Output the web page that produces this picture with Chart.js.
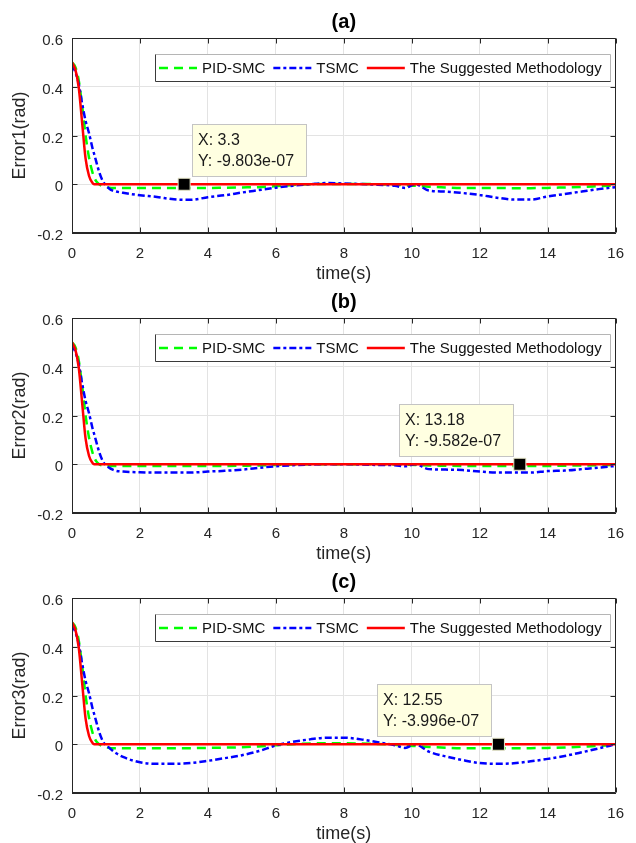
<!DOCTYPE html>
<html><head><meta charset="utf-8">
<script src="https://cdn.jsdelivr.net/npm/chart.js@4.4.0/dist/chart.umd.min.js"></script>
<style>
html,body{margin:0;padding:0;background:#fff;overflow:hidden;}
#wrap{position:relative;width:636px;height:843px;background:#fff;}
.panel{position:absolute;left:0;width:636px;height:283px;}
</style></head><body>
<div id="wrap">
<div class="panel" style="top:0"><canvas id="p0" width="636" height="283"></canvas></div>
<div class="panel" style="top:280px"><canvas id="p1" width="636" height="283"></canvas></div>
<div class="panel" style="top:560px"><canvas id="p2" width="636" height="283"></canvas></div>
</div>
<script>
// ---------- data ----------
const timeS = [0,0.1,0.2,0.3,0.4,0.5,0.6,0.65,0.7,0.8,
  0.9,1.0,1.1,1.2,1.3,1.5,2,2.5,3,3.5,
  4,4.5,5,5.5,6,6.5,7,7.5,8,8.5,
  9,9.5,9.8,10.1,10.5,11,11.5,12,12.5,13,
  13.5,14,14.5,15,15.5,16];

const suggestedErr = [0.5,0.47,0.395,0.25,0.105,0.035,0.006,0,0,0,
  0,0,0,0,0,0,0,0,0,0,
  0,0,0,0,0,0,0,0,0,0,
  0,0,0,0,0,0,0,0,0,0,
  0,0,0,0,0,0];

const pidSmcErr1 = [0.5,0.48,0.425,0.32,0.2,0.11,0.05,0.03,0.015,0,
  -0.008,-0.012,-0.014,-0.015,-0.015,-0.015,-0.015,-0.015,-0.015,-0.015,
  -0.015,-0.014,-0.013,-0.012,-0.008,-0.003,0,0.001,0.001,0.001,
  0,-0.002,-0.004,-0.006,-0.01,-0.013,-0.015,-0.015,-0.015,-0.016,
  -0.016,-0.015,-0.013,-0.011,-0.008,-0.005];
const pidSmcErr2 = [0.5,0.48,0.425,0.32,0.2,0.11,0.05,0.03,0.015,0,
  -0.005,-0.007,-0.007,-0.007,-0.007,-0.007,-0.007,-0.007,-0.007,-0.007,
  -0.007,-0.007,-0.006,-0.005,-0.003,-0.001,0,0,0,0,
  0,-0.001,-0.002,-0.003,-0.005,-0.006,-0.007,-0.007,-0.007,-0.007,
  -0.007,-0.007,-0.006,-0.005,-0.004,-0.003];
const pidSmcErr3 = [0.5,0.48,0.425,0.32,0.2,0.11,0.05,0.03,0.015,0,
  -0.008,-0.013,-0.015,-0.016,-0.016,-0.016,-0.016,-0.016,-0.016,-0.016,
  -0.015,-0.014,-0.012,-0.009,-0.004,0,0.003,0.004,0.004,0.003,
  0.001,-0.002,-0.005,-0.007,-0.011,-0.014,-0.016,-0.016,-0.016,-0.016,
  -0.016,-0.015,-0.013,-0.01,-0.007,-0.003];

const tsmcErr1 = [0.49,0.46,0.41,0.33,0.26,0.21,0.15,0.125,0.1,0.05,
  0.015,-0.005,-0.018,-0.026,-0.03,-0.035,-0.045,-0.052,-0.062,-0.064,
  -0.053,-0.045,-0.034,-0.024,-0.014,-0.006,0,0.005,0.003,0.001,
  -0.002,-0.006,-0.015,0,-0.026,-0.03,-0.036,-0.044,-0.055,-0.063,
  -0.063,-0.05,-0.04,-0.03,-0.02,-0.012];
const tsmcErr2 = [0.49,0.46,0.41,0.33,0.26,0.21,0.15,0.125,0.1,0.05,
  0.015,-0.005,-0.015,-0.022,-0.027,-0.03,-0.033,-0.034,-0.034,-0.034,
  -0.03,-0.027,-0.022,-0.015,-0.008,-0.004,-0.001,0,0,-0.001,
  -0.003,-0.004,-0.008,0,-0.02,-0.022,-0.024,-0.03,-0.034,-0.034,
  -0.034,-0.028,-0.026,-0.02,-0.014,-0.007];
const tsmcErr3 = [0.49,0.46,0.41,0.33,0.26,0.21,0.15,0.125,0.1,0.05,
  0.015,-0.005,-0.015,-0.027,-0.037,-0.052,-0.074,-0.08,-0.08,-0.077,
  -0.068,-0.057,-0.045,-0.028,-0.005,0.01,0.02,0.027,0.027,0.02,
  0.008,-0.004,-0.015,0,-0.03,-0.05,-0.065,-0.077,-0.08,-0.078,
  -0.07,-0.06,-0.048,-0.033,-0.017,0];

const xTicks = [0,2,4,6,8,10,12,14,16];
const xTickLabels = ['0','2','4','6','8','10','12','14','16'];
const yTicks = [-0.2,0,0.2,0.4,0.6];
const yTickLabels = ['-0.2','0','0.2','0.4','0.6'];

const seriesNames = ['PID-SMC','TSMC','The Suggested Methodology'];
const panelTitles = ['(a)','(b)','(c)'];
const yTitles = ['Error1(rad)','Error2(rad)','Error3(rad)'];
const xTitle = 'time(s)';
const tipX = [3.3, 13.18, 12.55];
const tipY = [-9.803e-07, -9.582e-07, -3.996e-07];
const tipXText = ['3.3','13.18','12.55'];
const tipYText = ['-9.803e-07','-9.582e-07','-3.996e-07'];

const pidSets = [pidSmcErr1, pidSmcErr2, pidSmcErr3];
const tsmcSets = [tsmcErr1, tsmcErr2, tsmcErr3];

// ---------- style ----------
const FONT = "'Liberation Sans', Arial, Helvetica, sans-serif";
const INK = '#262626';
const GREEN = '#00ff00', BLUE = '#0000ff', RED = '#ff0000';
const GREEN_DASH = [9,6], BLUE_DASH = [7,3,3,3];

function pts(arr){ return timeS.map((t,k)=>({x:t, y:arr[k]})); }

function decor(idx){
  return {
    id:'matlabDecor'+idx,
    afterDatasetsDraw(chart){
      const {ctx, chartArea:a, scales:{x,y}} = chart;
      ctx.save();
      // axes box
      ctx.strokeStyle = INK; ctx.lineWidth = 1; ctx.setLineDash([]);
      const L = Math.round(a.left)+0.5, T = Math.round(a.top)+0.5,
            R = Math.round(a.right)-0.5, B = Math.round(a.bottom)-0.5;
      ctx.beginPath(); ctx.rect(L, T, R-L, B-T); ctx.stroke();
      // inward ticks
      const tl = 5;
      ctx.beginPath();
      xTicks.forEach(v=>{ const px = Math.round(x.getPixelForValue(v))+0.5;
        ctx.moveTo(px,B); ctx.lineTo(px,B-tl); ctx.moveTo(px,T); ctx.lineTo(px,T+tl); });
      yTicks.forEach(v=>{ const py = Math.round(y.getPixelForValue(v))+0.5;
        ctx.moveTo(L,py); ctx.lineTo(L+tl,py); ctx.moveTo(R,py); ctx.lineTo(R-tl,py); });
      ctx.stroke();

      // legend (in the order of seriesNames)
      const lx = 155.5, ly = 54.5, lw = 455, lh = 27;
      ctx.fillStyle = '#fff'; ctx.fillRect(lx, ly, lw, lh);
      ctx.strokeStyle = '#b5b5b5';
      ctx.beginPath(); ctx.moveTo(lx,ly); ctx.lineTo(lx+lw,ly); ctx.lineTo(lx+lw,ly+lh); ctx.stroke();
      ctx.strokeStyle = '#3a3a3a';
      ctx.beginPath(); ctx.moveTo(lx,ly); ctx.lineTo(lx,ly+lh); ctx.lineTo(lx+lw,ly+lh); ctx.stroke();
      const ds = chart.data.datasets;
      const cy = ly + lh/2;
      let cx = 159;
      ctx.font = '15px ' + FONT; ctx.textBaseline = 'middle'; ctx.textAlign = 'left';
      seriesNames.forEach(name=>{
        const d = ds.find(s=>s.label===name);
        ctx.strokeStyle = d.borderColor; ctx.lineWidth = d.borderWidth;
        ctx.setLineDash(d.borderDash || []);
        ctx.beginPath(); ctx.moveTo(cx, cy); ctx.lineTo(cx+38, cy); ctx.stroke();
        ctx.setLineDash([]);
        ctx.fillStyle = '#111';
        ctx.fillText(d.label, cx+43, cy+0.5);
        cx = cx + 43 + ctx.measureText(d.label).width + 8;
      });

      // datatip
      const mx = x.getPixelForValue(tipX[idx]), my = y.getPixelForValue(tipY[idx]);
      const w = 114, h = 52;
      let bx = Math.round(mx + 8);
      if (bx + w > a.right - 2) bx = Math.round(mx - 7 - w);
      const by = Math.round(my - 8 - h);
      ctx.fillStyle = '#ffffe1'; ctx.fillRect(bx+0.5, by+0.5, w, h);
      ctx.strokeStyle = '#c4c4c4'; ctx.lineWidth = 1;
      ctx.strokeRect(bx+0.5, by+0.5, w, h);
      ctx.fillStyle = '#1a1a1a'; ctx.font = '16px ' + FONT;
      ctx.fillText('X: ' + tipXText[idx], bx + 6, by + 17);
      ctx.fillText('Y: ' + tipYText[idx], bx + 6, by + 38);
      ctx.restore();
    }
  };
}

function build(idx){
  const cv = document.getElementById('p'+idx);
  return new Chart(cv, {
    type:'line',
    data:{ datasets:[
      { label: seriesNames[0], data: pts(pidSets[idx]), borderColor: GREEN, backgroundColor: GREEN,
        borderWidth: 2.5, borderDash: GREEN_DASH, pointRadius: 0, cubicInterpolationMode:'monotone', order: 3 },
      { label: seriesNames[1], data: pts(tsmcSets[idx]), borderColor: BLUE, backgroundColor: BLUE,
        borderWidth: 2.5, borderDash: BLUE_DASH, pointRadius: 0, cubicInterpolationMode:'monotone', order: 2 },
      { label: seriesNames[2], data: pts(suggestedErr), borderColor: RED, backgroundColor: RED,
        borderWidth: 2.5, pointRadius: 0, cubicInterpolationMode:'monotone', order: 1 },
      { label: 'datatip', data: [{x: tipX[idx], y: tipY[idx]}], showLine: false,
        pointStyle: 'rect', pointRadius: 8.5, pointBackgroundColor: '#000', pointBorderColor: '#e6e6c8',
        pointBorderWidth: 1, order: 0 }
    ]},
    options:{
      responsive:false, animation:false, devicePixelRatio:1,
      events: [],
      layout:{ padding:{ left:0, right:9, top:0, bottom:0 } },
      plugins:{
        legend:{ display:false },
        tooltip:{ enabled:false },
        title:{ display:true, text: panelTitles[idx], fullSize:false, color:'#000',
          font:{ family: FONT, size: 20, weight:'bold', lineHeight: 1.2 },
          padding:{ top:10, bottom:4 } }
      },
      scales:{
        x:{ type:'linear', min:0, max:16,
          afterBuildTicks: s => { s.ticks = xTicks.map(v=>({value:v})); },
          afterFit: s => { s.height = 50; },
          grid:{ color:'#e3e3e3', drawTicks:false, lineWidth:1 },
          border:{ display:true, color: INK },
          ticks:{ color: INK, padding: 12, maxRotation:0, autoSkip:false,
            font:{ family: FONT, size: 15 }, callback: (v,i)=> xTickLabels[i] },
          title:{ display:true, text: xTitle, color: INK,
            font:{ family: FONT, size: 18, lineHeight: 1 }, padding:{ top:0, bottom:0 } }
        },
        y:{ type:'linear', min:-0.2, max:0.6,
          afterBuildTicks: s => { s.ticks = yTicks.map(v=>({value:v})); },
          afterFit: s => { s.width = 72; },
          grid:{ color:'#e3e3e3', drawTicks:false, lineWidth:1 },
          border:{ display:true, color: INK },
          ticks:{ color: INK, padding: 9, labelOffset: 3, autoSkip:false,
            font:{ family: FONT, size: 15 }, callback: (v,i)=> yTickLabels[i] },
          title:{ display:true, text: yTitles[idx], color: INK,
            font:{ family: FONT, size: 18, lineHeight: 1 }, padding:{ top:11, bottom:0 } }
        }
      }
    },
    plugins:[ decor(idx) ]
  });
}
[0,1,2].forEach(build);
</script>
</body></html>
